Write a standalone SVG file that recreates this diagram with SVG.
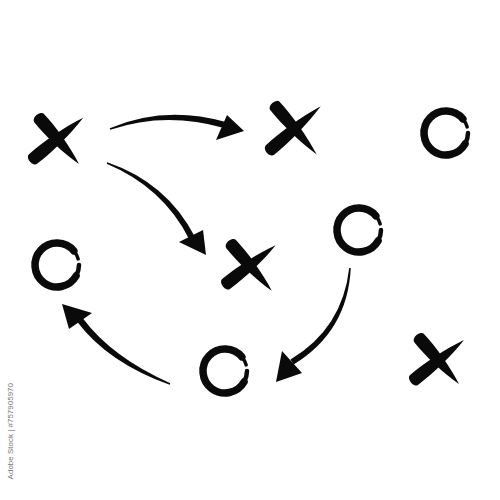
<svg xmlns="http://www.w3.org/2000/svg" xmlns:xlink="http://www.w3.org/1999/xlink" width="500" height="500" viewBox="0 0 500 500">
<style>
.ink{fill:#0a0a0a;stroke:none}
.ring{fill:none;stroke:#0a0a0a;stroke-linecap:round}
.ring .main{stroke-linecap:butt}
.id{font-family:"Liberation Sans",Arial,sans-serif;font-size:8px;fill:#777}
</style>
<defs>
<path id="brush" d="M0,-6.3 C30,-7 70,-4.5 100,0 C70,4.5 30,7 0,6.3 A6.3,6.3 0 0 1 0,-6.3 Z"/>
<g id="o">
<path class="main" d="M16.85,-14.14 A22,22 0 1 0 19.05,11" stroke-width="7.5"/>
<path d="M21.15,-6.06 A22,22 0 0 0 16.85,-14.14" stroke-width="3.5"/>
<path d="M19.05,11 A22,22 0 0 0 22,0" stroke-width="4.5"/>
</g>
</defs>
<rect width="500" height="500" fill="#fff"/>

<g id="x1" class="ink">
<use xlink:href="#brush" transform="translate(39,118) rotate(49) scale(0.61,1)"/>
<use xlink:href="#brush" transform="translate(33,159) rotate(-39.4) scale(0.65,1)"/>
</g>
<g id="x2" class="ink">
<use xlink:href="#brush" transform="translate(275,106) rotate(49.3) scale(0.64,1)"/>
<use xlink:href="#brush" transform="translate(270,150) rotate(-40.8) scale(0.67,1)"/>
</g>
<g id="x3" class="ink">
<use xlink:href="#brush" transform="translate(231,244) rotate(48.9) scale(0.62,1)"/>
<use xlink:href="#brush" transform="translate(226,284) rotate(-38) scale(0.63,1)"/>
</g>
<g id="x4" class="ink">
<use xlink:href="#brush" transform="translate(419,338) rotate(49) scale(0.61,1)"/>
<use xlink:href="#brush" transform="translate(414,380) rotate(-38.7) scale(0.64,1)"/>
</g>

<g id="o1" class="ring"><use xlink:href="#o" transform="translate(446,133)"/></g>
<g id="o2" class="ring"><use xlink:href="#o" transform="translate(359,230)"/></g>
<g id="o3" class="ring"><use xlink:href="#o" transform="translate(57,265)"/></g>
<g id="o4" class="ring"><use xlink:href="#o" transform="translate(225,371)"/></g>

<g id="connectors" class="ink">
<path d="M109.7,128.3 Q165,104.9 225.8,122.1 L224.2,127.9 Q165,111.1 110.3,129.7 Z"/>
<polygon points="227,115 244,131 216,140"/>
<path d="M106.7,163.8 Q163,187.3 189.3,239.4 L194.7,236.6 Q167,182.7 107.3,162.2 Z"/>
<polygon points="179,242 203,230 206,255"/>
<path d="M349.2,267.9 Q342.5,328.4 290.5,359.4 L293.6,364.6 Q347.6,331.6 350.8,268.1 Z"/>
<polygon points="282,351 302,373 276,382"/>
<path d="M170.3,383.3 Q111.9,357.4 82.6,318.1 L77.4,321.9 Q108.1,362.6 169.7,384.7 Z"/>
<polygon points="62,304 92,313 69,329"/>
</g>

<text class="id" transform="translate(13,383) rotate(-90)" text-anchor="end">Adobe Stock | #757905970</text>
</svg>
